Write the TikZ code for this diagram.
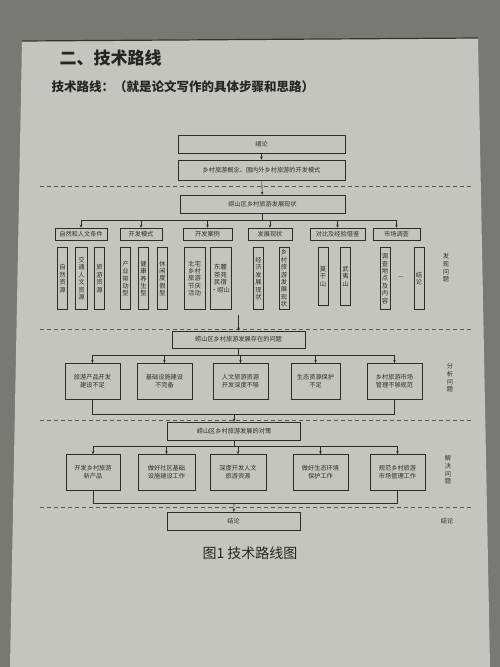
\documentclass[tikz,border=0pt]{standalone}
\usepackage{fontspec}
\newfontfamily\cjk{Noto Sans CJK SC}
\usetikzlibrary{arrows.meta}
\definecolor{paper}{RGB}{197,197,192}
\definecolor{photobg}{RGB}{120,120,117}
\definecolor{ink}{RGB}{45,45,45}
\tikzset{
  bx/.style={draw=ink, line width=0.6pt, inner sep=0.5pt, align=center, font=\cjk\fontsize{6.2}{7.8}\selectfont, text=ink},
  vbx/.style={bx, font=\cjk\fontsize{6.3}{7.4}\selectfont, minimum width=10pt, minimum height=62pt},
  cat/.style={bx, minimum height=12pt},
  wbx/.style={bx, minimum height=36pt},
  conn/.style={draw=ink, line width=0.6pt},
  arr/.style={conn, -{Stealth[length=3pt,width=2.6pt]}},
  sep/.style={draw=ink!80, line width=0.6pt, dash pattern=on 4pt off 3pt},
  side/.style={align=center, font=\cjk\fontsize{6.2}{7.6}\selectfont, text=ink, inner sep=0pt}
}
\begin{document}
\begin{tikzpicture}[x=1pt,y=-1pt]
\useasboundingbox (0,0) rectangle (500,667);
\fill[photobg] (0,0) rectangle (500,667);
\fill[paper] (22,41) -- (478,38) -- (490,667) -- (10,667) -- cycle;
\draw[black!80, line width=1.2pt] (22,41) -- (478,38);

% titles
\node[anchor=west, font=\cjk\bfseries\fontsize{17}{20}\selectfont, text=black!85] (title) at (56,58) {二、技术路线};
\node[anchor=west, font=\cjk\bfseries\fontsize{12.5}{15}\selectfont, text=black!85] (sub) at (48,87) {技术路线：（就是论文写作的具体步骤和思路）};

% top boxes
\node[bx, minimum width=167pt, minimum height=18pt] (intro) at (261.5,144) {绪论};
\node[bx, minimum width=167pt, minimum height=20pt] (concept) at (261.5,170) {乡村旅游概念、国内外乡村旅游的开发模式};
\draw[sep] (40,186) -- (472,186);
\node[bx, minimum width=165pt, minimum height=18pt] (status) at (262.5,204) {崂山区乡村旅游发展现状};
\draw[arr] (intro) -- (concept);
\draw[arr] (concept) -- (status);

% categories
\node[cat, minimum width=52pt] (c1) at (81,234) {自然和人文条件};
\node[cat, minimum width=42pt] (c2) at (141,234) {开发模式};
\node[cat, minimum width=49pt] (c3) at (207.5,234) {开发案例};
\node[cat, minimum width=44pt] (c4) at (270,234) {发展现状};
\node[cat, minimum width=55pt] (c5) at (337.5,234) {对比及经验借鉴};
\node[cat, minimum width=47pt] (c6) at (396.5,234) {市场调查};
\coordinate (b1) at (262.5,220);
\draw[conn] (status.south) -- (b1);
\draw[conn] (c1.north |- b1) -- (c6.north |- b1);
\foreach \c in {c1,c2,c3,c4,c5,c6} \draw[arr] (\c.north |- b1) -- (\c.north);

% sub boxes
\node[vbx] (s1) at (62.5,278.5) {自\\然\\资\\源};
\node[vbx, minimum width=12pt] (s2) at (81.5,278.5) {交\\通\\人\\文\\资\\源};
\node[vbx] (s3) at (99.5,278.5) {旅\\游\\资\\源};
\node[vbx] (s4) at (125.5,278.5) {产\\业\\带\\动\\型};
\node[vbx] (s5) at (143.5,278.5) {健\\康\\养\\生\\型};
\node[vbx] (s6) at (162.5,278.5) {休\\闲\\度\\假\\型};
\node[vbx, minimum width=21pt] (s7) at (194.5,278.5) {北宅\\乡村\\旅游\\节庆\\活动};
\node[vbx, minimum width=21pt] (s8) at (220.5,278.5) {东麓\\茶苑\\民宿\\·崂山};
\node[vbx] (s9) at (258.5,278.5) {经\\济\\发\\展\\现\\状};
\node[vbx] (s10) at (284,278.5) {乡\\村\\旅\\游\\发\\展\\现\\状};
\node[vbx, minimum height=58pt] (s11) at (323,276.5) {莫\\干\\山};
\node[vbx, minimum height=58pt] (s12) at (345.5,276.5) {武\\夷\\山};
\node[vbx] (s13) at (385,278.5) {调\\查\\地\\点\\及\\内\\容};
\node[side] (dash) at (401,278) {—};
\node[vbx] (s14) at (419,278.5) {结\\论};
\node[side] (l1) at (446,268) {发\\现\\问\\题};

% problems
\coordinate (top2) at (238.5,315);
\draw[sep] (40,329) -- (472,329);
\node[bx, minimum width=133pt, minimum height=17pt] (prob) at (238.5,339.5) {崂山区乡村旅游发展存在的问题};
\draw[arr] (top2) -- (prob);
\node[wbx, minimum width=55pt] (p1) at (92.5,381.5) {旅游产品开发\\建设不足};
\node[wbx, minimum width=55pt] (p2) at (164.5,381.5) {基础设施建设\\不完备};
\node[wbx, minimum width=55pt] (p3) at (240.5,381.5) {人文旅游资源\\开发深度不够};
\node[wbx, minimum width=49pt] (p4) at (315.5,381.5) {生态资源保护\\不足};
\node[wbx, minimum width=55pt] (p5) at (394.5,381.5) {乡村旅游市场\\管理不够规范};
\coordinate (b2) at (238.5,355);
\draw[conn] (prob.south) -- (b2);
\draw[conn] (p1.north |- b2) -- (p5.north |- b2);
\foreach \c in {p1,p2,p3,p4,p5} \draw[arr] (\c.north |- b2) -- (\c.north);
\node[side] (l2) at (450,378) {分\\析\\问\\题};

% solutions
\coordinate (b3) at (234,414);
\draw[conn] (p1.south) -- (p1.south |- b3) -- (p5.south |- b3) -- (p5.south);
\draw[sep] (40,420) -- (472,420);
\node[bx, minimum width=133pt, minimum height=18pt] (sol) at (234,431) {崂山区乡村旅游发展的对策};
\draw[arr] (b3) -- (sol);
\node[wbx, minimum width=54pt] (q1) at (93,472.5) {开发乡村旅游\\新产品};
\node[wbx, minimum width=57pt] (q2) at (166.5,472.5) {做好社区基础\\设施建设工作};
\node[wbx, minimum width=56pt] (q3) at (238,472.5) {深度开发人文\\旅游资源};
\node[wbx, minimum width=55pt] (q4) at (320.5,472.5) {做好生态环境\\保护工作};
\node[wbx, minimum width=55pt] (q5) at (397.5,472.5) {规范乡村旅游\\市场管理工作};
\coordinate (b4) at (234,446);
\draw[conn] (sol.south) -- (b4);
\draw[conn] (q1.north |- b4) -- (q5.north |- b4);
\foreach \c in {q1,q2,q3,q4,q5} \draw[arr] (\c.north |- b4) -- (\c.north);
\node[side] (l3) at (448,470) {解\\决\\问\\题};

% conclusion
\coordinate (b5) at (234,503);
\draw[conn] (q1.south) -- (q1.south |- b5) -- (q5.south |- b5) -- (q5.south);
\draw[sep] (40,507) -- (472,507);
\node[bx, minimum width=133pt, minimum height=18pt] (concl) at (233.5,521) {结论};
\draw[arr] (b5) -- (concl);
\node[side] (l4) at (447,521) {结论};

\node[font=\cjk\fontsize{14}{16}\selectfont, text=black!85] (cap) at (250,553) {图1 技术路线图};
\end{tikzpicture}
\end{document}
